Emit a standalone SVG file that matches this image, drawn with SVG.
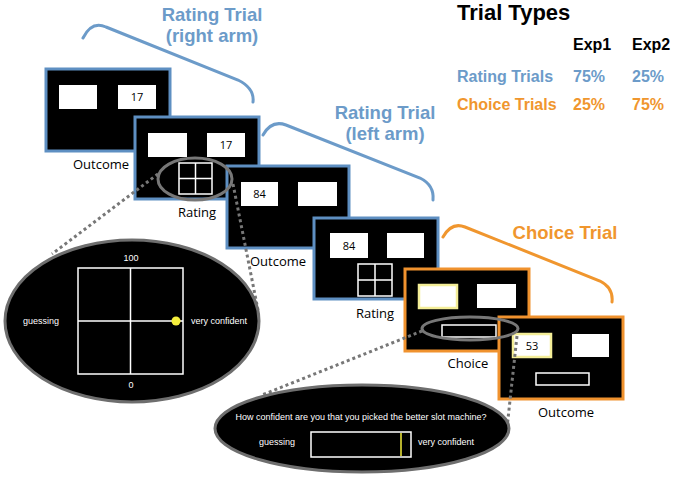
<svg xmlns="http://www.w3.org/2000/svg" width="675" height="479" viewBox="0 0 675 479">
<defs>
<style>
.scrB{fill:#000;stroke:#5e8fc2;stroke-width:3}
.scrO{fill:#000;stroke:#f0922e;stroke-width:3}
.box{fill:#fff}
.ybox{fill:#fff;stroke:#f4ee98;stroke-width:2.5}
.num{font-family:"Open Sans","Liberation Sans",sans-serif;font-size:11px;fill:#000;text-anchor:middle}
.lab{font-family:"Open Sans","Liberation Sans",sans-serif;font-size:13px;fill:#000;text-anchor:middle}
.grid{fill:none;stroke:#fff;stroke-width:1.5}
.slider{fill:#000;stroke:#fff;stroke-width:1.5}
.lens{fill:none;stroke:#777;stroke-width:3}
.big{fill:#000;stroke:#6e6e6e;stroke-width:3}
.dot{fill:none;stroke:#777;stroke-width:3;stroke-dasharray:3 3}
.wt{font-family:"Liberation Sans",Arial,sans-serif;font-size:9px;fill:#fff}
.brB{fill:none;stroke:#6c9bc9;stroke-width:3;stroke-linecap:round}
.brO{fill:none;stroke:#f0962e;stroke-width:3;stroke-linecap:round}
.ttl{font-family:"Liberation Sans",Arial,sans-serif;font-weight:bold;font-size:18.5px;text-anchor:middle}
.tb{font-family:"Liberation Sans",Arial,sans-serif;font-weight:bold;font-size:16px}
.blue{fill:#6c9bc9}
.orange{fill:#f0962e}
</style>
</defs>

<g id="brackets">
<path class="brB" d="M83,38 C88,28 95,22 106,27 L238,80 C250,86 254,94 253,102"/>
<path class="brB" d="M263,135 C268,126 275,121 286,125 L420,178 C430,183 434,190 433,200"/>
<path class="brO" d="M443,237 C448,228 455,223 465,227 L600,281 C610,286 613,293 612,302"/>
</g>

<g id="label-rating-right">
<text class="ttl blue" x="212" y="21">Rating Trial</text>
<text class="ttl blue" x="212" y="42">(right arm)</text>
</g>
<g id="label-rating-left">
<text class="ttl blue" x="385" y="119">Rating Trial</text>
<text class="ttl blue" x="385" y="140">(left arm)</text>
</g>
<g id="label-choice">
<text class="ttl orange" x="565" y="239">Choice Trial</text>
</g>

<g id="trial-types">
<text x="457" y="20" font-family="Liberation Sans,Arial,sans-serif" font-weight="bold" font-size="22" fill="#000">Trial Types</text>
<text class="tb" x="573" y="50" fill="#000">Exp1</text>
<text class="tb" x="632" y="50" fill="#000">Exp2</text>
<text class="tb blue" x="457" y="82">Rating Trials</text>
<text class="tb blue" x="573" y="82">75%</text>
<text class="tb blue" x="632" y="82">25%</text>
<text class="tb orange" x="457" y="110">Choice Trials</text>
<text class="tb orange" x="573" y="110">25%</text>
<text class="tb orange" x="632" y="110">75%</text>
</g>

<g id="screen-outcome-right">
<rect class="scrB" x="46" y="69" width="124" height="82"/>
<rect class="box" x="59" y="85" width="38" height="24"/>
<rect class="box" x="118" y="85" width="38" height="24"/>
<text class="num" x="137" y="101">17</text>
<text class="lab" x="101" y="169">Outcome</text>
</g>

<g id="screen-rating-right">
<rect class="scrB" x="135" y="117" width="124" height="82"/>
<rect class="box" x="148" y="133" width="39" height="24"/>
<rect class="box" x="207" y="133" width="38" height="24"/>
<text class="num" x="226" y="149">17</text>
<rect class="grid" x="179" y="163" width="33" height="31"/>
<path class="grid" d="M195.5,163 V194 M179,178.5 H212"/>
<text class="lab" x="197" y="217">Rating</text>
</g>

<g id="screen-outcome-left">
<rect class="scrB" x="227" y="166" width="122" height="82"/>
<rect class="box" x="241" y="182" width="37" height="24"/>
<rect class="box" x="298" y="182" width="39" height="24"/>
<text class="num" x="259.5" y="198">84</text>
<text class="lab" x="278" y="266">Outcome</text>
</g>

<g id="screen-rating-left">
<rect class="scrB" x="314" y="218" width="124" height="81"/>
<rect class="box" x="330" y="233" width="38" height="25"/>
<rect class="box" x="387" y="233" width="37" height="25"/>
<text class="num" x="349" y="249.5">84</text>
<rect class="grid" x="358" y="264" width="34" height="32"/>
<path class="grid" d="M375,264 V296 M358,280 H392"/>
<text class="lab" x="375" y="318">Rating</text>
</g>

<g id="screen-choice">
<rect class="scrO" x="405" y="269" width="124" height="82"/>
<rect class="ybox" x="419" y="285" width="38" height="23"/>
<rect class="box" x="477" y="284" width="39" height="24"/>
<rect class="slider" x="442" y="325" width="54" height="12"/>
<text class="lab" x="468" y="368">Choice</text>
</g>

<g id="screen-outcome-choice">
<rect class="scrO" x="499" y="317" width="124" height="82"/>
<rect class="ybox" x="513" y="334" width="38" height="23"/>
<rect class="box" x="572" y="334" width="37" height="23"/>
<text class="num" x="532" y="350">53</text>
<rect class="slider" x="536" y="373" width="53" height="12"/>
<text class="lab" x="566" y="417">Outcome</text>
</g>

<g id="connectors">
<path class="dot" d="M158,174 L52,254"/>
<path class="dot" d="M233,184 L258,310"/>
<path class="dot" d="M422,331 L262,395"/>
<path class="dot" d="M517,336 L507,428"/>
<ellipse class="lens" cx="195" cy="179" rx="37" ry="21"/>
<ellipse class="lens" cx="470" cy="328.5" rx="48" ry="11.5"/>
</g>

<g id="zoom-rating-scale">
<ellipse class="big" cx="132" cy="321" rx="127" ry="81"/>
<rect class="grid" x="78" y="268" width="105" height="106"/>
<path class="grid" d="M130.5,268 V374 M78,321 H183"/>
<circle cx="176" cy="321" r="4.5" fill="#f5ee3c"/>
<text class="wt" x="131" y="261" text-anchor="middle">100</text>
<text class="wt" x="131" y="388" text-anchor="middle">0</text>
<text class="wt" x="41" y="324" text-anchor="middle">guessing</text>
<text class="wt" x="191" y="324">very confident</text>
</g>

<g id="zoom-choice-scale">
<ellipse class="big" cx="362" cy="428.5" rx="147" ry="43.5"/>
<text class="wt" x="361" y="420" text-anchor="middle" font-size="8.5">How confident are you that you picked the better slot machine?</text>
<text class="wt" x="277" y="445" text-anchor="middle">guessing</text>
<rect class="slider" x="311" y="432" width="100" height="25" stroke-width="2"/>
<line x1="401" y1="433" x2="401" y2="456" stroke="#f5ee3c" stroke-width="1.5"/>
<text class="wt" x="418" y="445">very confident</text>
</g>
</svg>
